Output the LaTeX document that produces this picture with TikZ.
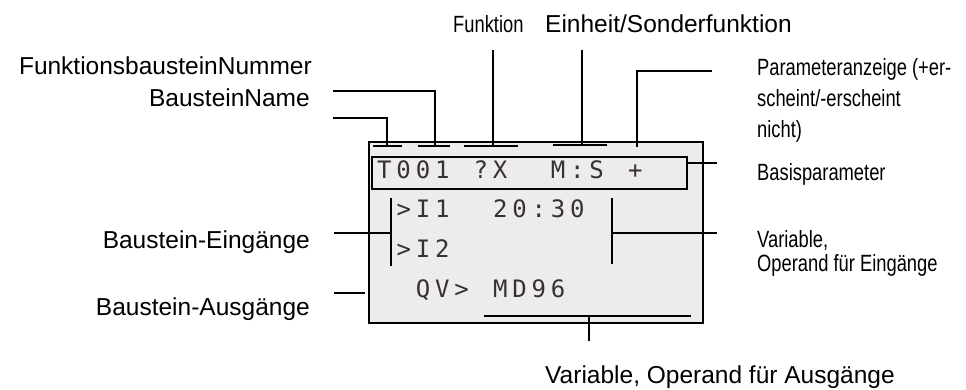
\documentclass[tikz,border=0pt]{standalone}
\usepackage{fontspec}
\setmainfont{Liberation Sans}
\newfontfamily\condfont[FakeStretch=0.78]{Liberation Sans}
\newfontfamily\lcdfont[LetterSpace=20.2]{DejaVu Sans Mono}
\definecolor{lcdgray}{HTML}{ECECEC}
\definecolor{lcdtext}{HTML}{3A3030}
\usetikzlibrary{positioning}

\begin{document}
\begin{tikzpicture}[x=1pt, y=-1pt,
    lead/.style={line width=1.2pt},
    tickline/.style={line width=2pt},
    lbl/.style={font=\fontsize{24.5}{28}\selectfont, inner sep=0pt},
    clbl/.style={font=\condfont\fontsize{23.5}{24}\selectfont, inner sep=0pt, align=left},
    lcdrow/.style={font=\lcdfont\fontsize{24}{28}\selectfont, text=lcdtext, inner sep=0pt, anchor=base west}]

    \useasboundingbox (0,0) rectangle (966,389);

    % ========== 显示屏 ==========
    \begin{scope}[local bounding box=lcd]

      % 外框
      \filldraw[fill=lcdgray, draw=black, line width=1.5pt]
           (369,142) rectangle (703,323);
      % 基本参数框
      \draw[line width=2.5pt] (372,157) rectangle (687,189);

      % 显示文字（每列 19.3）
      \node[lcdrow] (typ)   at (377,178)          {T001};
      \node[lcdrow] (fkt)   at (377+5*19.3,178)   {?X};
      \node[lcdrow] (unit)  at (377+9*19.3,178)   {M:S};
      \node[lcdrow] (plus)  at (377+13*19.3,178)  {+};
      \node[lcdrow] (inA)   at (377+1*19.3,217)   {>I1};
      \node[lcdrow] (time)  at (377+6*19.3,217)   {20:30};
      \node[lcdrow] (inB)   at (377+1*19.3,257)   {>I2};
      \node[lcdrow] (outQ)  at (377+2*19.3,297)   {QV>};
      \node[lcdrow] (outV)  at (377+6*19.3,297)   {MD96};

      % 上方的标记短线
      \draw[tickline] (373,146) -- (402,146);
      \draw[tickline] (418,146) -- (450,146);
      \draw[tickline] (464,146) -- (518,146);
      \draw[tickline] (553,145) -- (607,145);
      % 下方的标记短线
      \draw[tickline] (484,316) -- (691,316);
    \end{scope}

    % ========== 左侧说明 ==========
    \node[lbl, anchor=base east] (nummer) at (312,74)  {FunktionsbausteinNummer};
    \node[lbl, anchor=base east] (name)   at (310,106) {BausteinName};
    \node[lbl, anchor=base east] (ein)    at (310,248) {Baustein-Eingänge};
    \node[lbl, anchor=base east] (aus)    at (310,315) {Baustein-Ausgänge};

    \coordinate (nummerA) at (333,91);
    \coordinate (nummerB) at (435,146);
    \coordinate (nameA)   at (333,118);
    \coordinate (nameB)   at (387,146);
    \coordinate (einA)    at (334,233);
    \coordinate (einB)    at (391,233);
    \coordinate (ausA)    at (334,293);
    \coordinate (ausB)    at (365,293);

    \draw[lead] (nummerA) -| (nummerB);
    \draw[lead] (nameA) -| (nameB);
    \draw[lead] (einA) -- (einB);
    \draw[lead] (ausA) -- (ausB);
    % 输入的竖线
    \draw[tickline] (391,198) -- (391,266);

    % ========== 上方说明 ==========
    \node[clbl, anchor=base west] (funk)    at (453,32) {Funktion};
    \node[lbl, anchor=base west]  (einheit) at (545,32) {Einheit/Sonderfunktion};

    \coordinate (funkA)    at (493,50);
    \coordinate (funkB)    at (493,146);
    \coordinate (einheitA) at (582,50);
    \coordinate (einheitB) at (582,145);

    \draw[lead] (funkA) -- (funkB);
    \draw[lead] (einheitA) -- (einheitB);

    % ========== 右侧说明 ==========
    % 多行文字：base 在最后一行
    \node[clbl, anchor=base west, font=\condfont\fontsize{23.5}{31}\selectfont]
         (param) at (757,137) {Parameteranzeige (+er-\\scheint/-erscheint\\nicht)};
    \node[clbl, anchor=base west] (basis)  at (757,180) {Basisparameter};
    \node[clbl, anchor=base west] (varein) at (757,271) {Variable,\\Operand für Eingänge};

    \coordinate (paramA)  at (712,71);
    \coordinate (paramB)  at (637,147);
    \coordinate (basisA)  at (687,163);
    \coordinate (basisB)  at (717,163);
    \coordinate (vareinA) at (612,233);
    \coordinate (vareinB) at (717,233);

    \draw[lead] (paramA) -| (paramB);
    \draw[lead] (basisA) -- (basisB);
    \draw[lead] (vareinA) -- (vareinB);
    % 右边的竖线
    \draw[tickline] (612,198) -- (612,264);

    % ========== 下方说明 ==========
    \node[lbl, anchor=base west] (varaus) at (545,383) {Variable, Operand für Ausgänge};

    \coordinate (varausA) at (589,316);
    \coordinate (varausB) at (589,341);

    \draw[lead] (varausA) -- (varausB);

\end{tikzpicture}
\end{document}
